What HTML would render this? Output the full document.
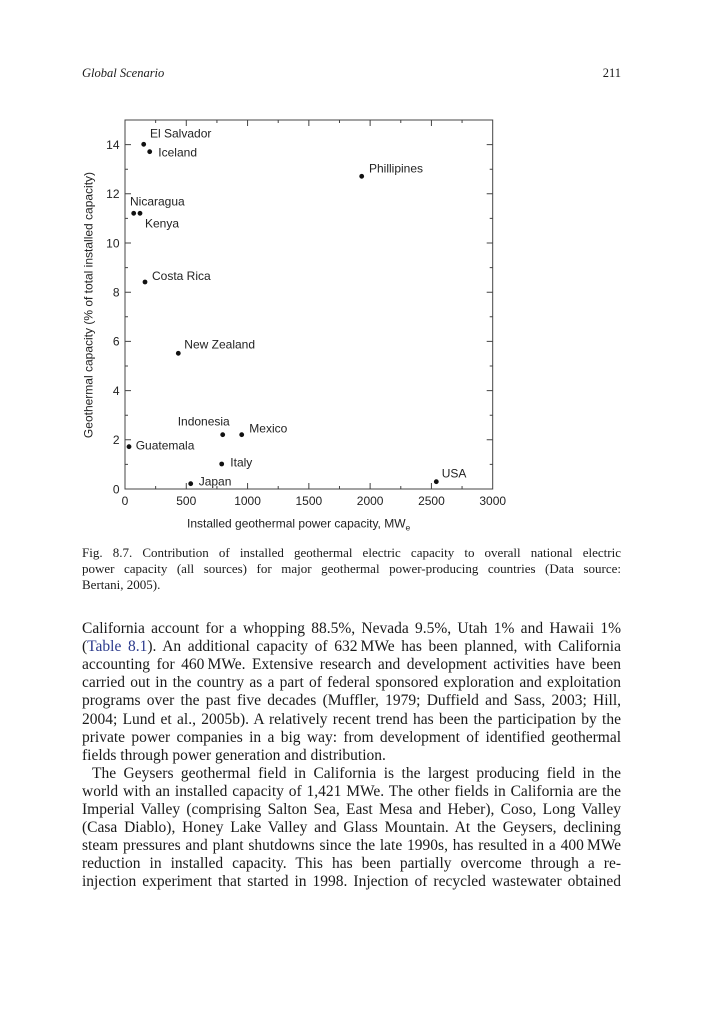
<!DOCTYPE html>
<html>
<head>
<meta charset="utf-8">
<style>
  html, body { margin:0; padding:0; background:#fff; }
  body { width:704px; height:1024px; position:relative; overflow:hidden; }
  .serif { font-family:"Liberation Serif", "Times New Roman", serif; color:#1a1a1a; }
  #hdr-l { position:absolute; left:82px; top:64.8px; font-size:12.5px; line-height:16px; font-style:italic; }
  #hdr-r { position:absolute; left:560px; width:61px; top:64.8px; font-size:12.5px; line-height:16px; text-align:right; }
  #cap { position:absolute; left:82px; width:539px; top:544.6px; font-size:13px; line-height:16px; }
  #body { position:absolute; left:82px; width:539px; top:620.2px; font-size:15.5px; line-height:18.07px; }
  .j { text-align:justify; text-align-last:justify; white-space:normal; }
  .l { text-align:left; }
  .ind { padding-left:10px; }
  .blue { color:#2b3a8c; }
  svg { position:absolute; left:0; top:0; }
</style>
</head>
<body>
<div id="hdr-l" class="serif">Global Scenario</div>
<div id="hdr-r" class="serif">211</div>

<svg width="704" height="1024" viewBox="0 0 704 1024" xmlns="http://www.w3.org/2000/svg">
  <g stroke="#444" stroke-width="1" fill="none">
    <rect x="125" y="120" width="367.7" height="369"/>
    <path d="M155.64 489v-3M186.28 489v-6M216.93 489v-3M247.57 489v-6M278.21 489v-3M308.85 489v-6M339.49 489v-3M370.13 489v-6M400.78 489v-3M431.42 489v-6M462.06 489v-3
             M155.64 120v3M186.28 120v6M216.93 120v3M247.57 120v6M278.21 120v3M308.85 120v6M339.49 120v3M370.13 120v6M400.78 120v3M431.42 120v6M462.06 120v3"/>
    <path d="M125 464.4h3M125 439.8h6M125 415.2h3M125 390.6h6M125 366h3M125 341.4h6M125 316.8h3M125 292.2h6M125 267.6h3M125 243h6M125 218.4h3M125 193.8h6M125 169.2h3M125 144.6h6
             M492.7 464.4h-3M492.7 439.8h-6M492.7 415.2h-3M492.7 390.6h-6M492.7 366h-3M492.7 341.4h-6M492.7 316.8h-3M492.7 292.2h-6M492.7 267.6h-3M492.7 243h-6M492.7 218.4h-3M492.7 193.8h-6M492.7 169.2h-3M492.7 144.6h-6"/>
  </g>
  <g font-family="Liberation Sans, Arial, sans-serif" font-size="12" fill="#222">
    <g text-anchor="end">
      <text x="119.5" y="493.3">0</text>
      <text x="119.5" y="444.1">2</text>
      <text x="119.5" y="394.9">4</text>
      <text x="119.5" y="345.7">6</text>
      <text x="119.5" y="296.5">8</text>
      <text x="119.5" y="247.3">10</text>
      <text x="119.5" y="198.1">12</text>
      <text x="119.5" y="148.9">14</text>
    </g>
    <g text-anchor="middle">
      <text x="125" y="505">0</text>
      <text x="186.28" y="505">500</text>
      <text x="247.57" y="505">1000</text>
      <text x="308.85" y="505">1500</text>
      <text x="370.13" y="505">2000</text>
      <text x="431.42" y="505">2500</text>
      <text x="492.7" y="505">3000</text>
    </g>
    <text x="187" y="527.7">Installed geothermal power capacity, MW<tspan font-size="8.5" dy="3">e</tspan></text>
    <text transform="translate(92.5,305) rotate(-90)" text-anchor="middle">Geothermal capacity (% of total installed capacity)</text>
    <text x="150" y="137.3">El Salvador</text>
    <text x="158.3" y="156.7">Iceland</text>
    <text x="369" y="172.7">Phillipines</text>
    <text x="130" y="205.7">Nicaragua</text>
    <text x="145" y="227.3">Kenya</text>
    <text x="152" y="280">Costa Rica</text>
    <text x="184.3" y="348.3">New Zealand</text>
    <text x="177.7" y="425.7">Indonesia</text>
    <text x="249.3" y="432.3">Mexico</text>
    <text x="135.7" y="449.3">Guatemala</text>
    <text x="230.3" y="466.7">Italy</text>
    <text x="198.7" y="485.7">Japan</text>
    <text x="441.7" y="477.3">USA</text>
  </g>
  <g fill="#111">
    <circle cx="143.7" cy="144.3" r="2.4"/>
    <circle cx="149.7" cy="151.7" r="2.4"/>
    <circle cx="361.7" cy="176.3" r="2.4"/>
    <circle cx="133.7" cy="213.3" r="2.4"/>
    <circle cx="140" cy="213.3" r="2.4"/>
    <circle cx="145" cy="282" r="2.4"/>
    <circle cx="178.3" cy="353.3" r="2.4"/>
    <circle cx="222.7" cy="434.7" r="2.4"/>
    <circle cx="241.7" cy="434.7" r="2.4"/>
    <circle cx="129" cy="446.7" r="2.4"/>
    <circle cx="221.7" cy="464" r="2.4"/>
    <circle cx="190.7" cy="483.7" r="2.4"/>
    <circle cx="436.3" cy="481.7" r="2.4"/>
  </g>
</svg>

<div id="cap" class="serif">
  <div class="j">Fig. 8.7. Contribution of installed geothermal electric capacity to overall national electric</div>
  <div class="j">power capacity (all sources) for major geothermal power-producing countries (Data source:</div>
  <div class="l">Bertani, 2005).</div>
</div>

<div id="body" class="serif">
  <div class="j">California account for a whopping 88.5%, Nevada 9.5%, Utah 1% and Hawaii 1%</div>
  <div class="j">(<span class="blue">Table 8.1</span>). An additional capacity of 632&#8201;MWe has been planned, with California</div>
  <div class="j">accounting for 460&#8201;MWe. Extensive research and development activities have been</div>
  <div class="j">carried out in the country as a part of federal sponsored exploration and exploitation</div>
  <div class="j">programs over the past five decades (Muffler, 1979; Duffield and Sass, 2003; Hill,</div>
  <div class="j">2004; Lund et al., 2005b). A relatively recent trend has been the participation by the</div>
  <div class="j">private power companies in a big way: from development of identified geothermal</div>
  <div class="l">fields through power generation and distribution.</div>
  <div class="j ind">The Geysers geothermal field in California is the largest producing field in the</div>
  <div class="j">world with an installed capacity of 1,421 MWe. The other fields in California are the</div>
  <div class="j">Imperial Valley (comprising Salton Sea, East Mesa and Heber), Coso, Long Valley</div>
  <div class="j">(Casa Diablo), Honey Lake Valley and Glass Mountain. At the Geysers, declining</div>
  <div class="j">steam pressures and plant shutdowns since the late 1990s, has resulted in a 400&#8201;MWe</div>
  <div class="j">reduction in installed capacity. This has been partially overcome through a re-</div>
  <div class="j">injection experiment that started in 1998. Injection of recycled wastewater obtained</div>
</div>
</body>
</html>
